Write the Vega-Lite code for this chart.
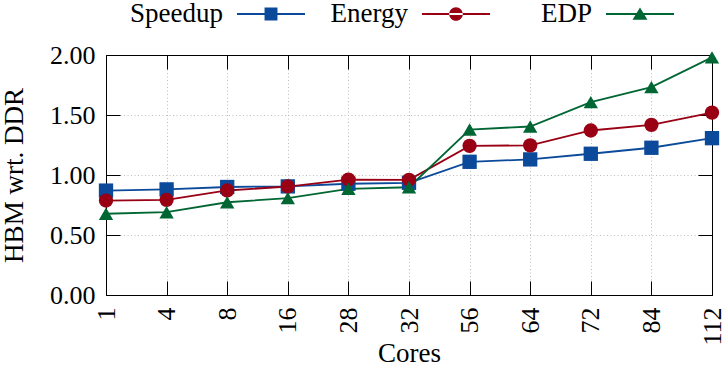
{
  "$schema": "https://vega.github.io/schema/vega-lite/v6.json",
  "width": 606,
  "height": 240,
  "autosize": {"type": "none"},
  "padding": {"left": 106, "top": 55, "right": 14, "bottom": 71},
  "background": "white",
  "config": {
    "view": {"stroke": "black", "strokeWidth": 1},
    "font": "Liberation Serif",
    "axis": {
      "labelFont": "Liberation Serif",
      "titleFont": "Liberation Serif",
      "labelFontSize": 26,
      "titleFontSize": 27,
      "titleFontWeight": "normal",
      "labelColor": "black",
      "titleColor": "black",
      "domainColor": "black",
      "tickColor": "black",
      "gridColor": "#bdbdbd",
      "gridDash": [1, 2.5],
      "gridWidth": 1
    },
    "legend": {
      "orient": "none",
      "legendY": -75,
      "direction": "horizontal",
      "labelFont": "Liberation Serif",
      "labelFontSize": 27,
      "labelColor": "black",
      "symbolSize": 4624,
      "symbolOpacity": 1,
      "symbolStrokeWidth": 0,
      "labelAlign": "right",
      "labelOffset": -82
    }
  },
  "data": {
    "values": [
      {"cores": "1", "series": "Speedup", "value": 0.87},
      {"cores": "4", "series": "Speedup", "value": 0.88},
      {"cores": "8", "series": "Speedup", "value": 0.9},
      {"cores": "16", "series": "Speedup", "value": 0.905},
      {"cores": "28", "series": "Speedup", "value": 0.927},
      {"cores": "32", "series": "Speedup", "value": 0.935},
      {"cores": "56", "series": "Speedup", "value": 1.11},
      {"cores": "64", "series": "Speedup", "value": 1.13},
      {"cores": "72", "series": "Speedup", "value": 1.177},
      {"cores": "84", "series": "Speedup", "value": 1.227},
      {"cores": "112", "series": "Speedup", "value": 1.307},
      {"cores": "1", "series": "Energy", "value": 0.787},
      {"cores": "4", "series": "Energy", "value": 0.793},
      {"cores": "8", "series": "Energy", "value": 0.871},
      {"cores": "16", "series": "Energy", "value": 0.904},
      {"cores": "28", "series": "Energy", "value": 0.962},
      {"cores": "32", "series": "Energy", "value": 0.96},
      {"cores": "56", "series": "Energy", "value": 1.243},
      {"cores": "64", "series": "Energy", "value": 1.247},
      {"cores": "72", "series": "Energy", "value": 1.371},
      {"cores": "84", "series": "Energy", "value": 1.418},
      {"cores": "112", "series": "Energy", "value": 1.52},
      {"cores": "1", "series": "EDP", "value": 0.677},
      {"cores": "4", "series": "EDP", "value": 0.69},
      {"cores": "8", "series": "EDP", "value": 0.773},
      {"cores": "16", "series": "EDP", "value": 0.807},
      {"cores": "28", "series": "EDP", "value": 0.885},
      {"cores": "32", "series": "EDP", "value": 0.898},
      {"cores": "56", "series": "EDP", "value": 1.379},
      {"cores": "64", "series": "EDP", "value": 1.404},
      {"cores": "72", "series": "EDP", "value": 1.607},
      {"cores": "84", "series": "EDP", "value": 1.732},
      {"cores": "112", "series": "EDP", "value": 1.98}
    ]
  },
  "layer": [
    {
      "mark": {"type": "line", "strokeWidth": 1.8},
      "encoding": {
        "x": {
          "field": "cores", "type": "ordinal", "sort": null,
          "scale": {"type": "point", "padding": 0},
          "axis": {"title": "Cores", "labelAngle": -90, "tickSize": -14, "labelPadding": 26, "grid": true, "titlePadding": -5}
        },
        "y": {
          "field": "value", "type": "quantitative",
          "scale": {"domain": [0, 2]},
          "axis": {"title": "HBM wrt. DDR", "values": [0, 0.5, 1, 1.5, 2], "format": ".2f", "tickSize": -14, "labelPadding": 25, "grid": true, "titlePadding": 21}
        },
        "color": {
          "field": "series", "type": "nominal",
          "scale": {"domain": ["Speedup", "Energy", "EDP"], "range": ["#0b4a9a", "#990014", "#006633"]},
          "legend": null
        }
      }
    },
    {
      "mark": {"type": "point", "filled": true, "opacity": 1, "size": 205},
      "encoding": {
        "x": {
          "field": "cores", "type": "ordinal", "sort": null,
          "scale": {"type": "point", "padding": 0},
          "axis": {"orient": "top", "labels": false, "title": null, "grid": false, "tickSize": -14}
        },
        "y": {
          "field": "value", "type": "quantitative",
          "scale": {"domain": [0, 2]},
          "axis": {"orient": "right", "labels": false, "title": null, "grid": false, "tickSize": -14, "values": [0, 0.5, 1, 1.5, 2]}
        },
        "color": {
          "field": "series", "type": "nominal",
          "scale": {"domain": ["Speedup", "Energy", "EDP"], "range": ["#0b4a9a", "#990014", "#006633"]},
          "legend": null
        },
        "shape": {
          "field": "series", "type": "nominal",
          "scale": {"domain": ["Speedup", "Energy", "EDP"], "range": ["square", "circle", "triangle-up"]},
          "legend": null
        }
      }
    },
    {
      "transform": [{"filter": "datum.series === 'Speedup'"}],
      "mark": {"type": "point", "filled": true, "size": 0, "shape": "M-1,-0.026H1V0.026H-1ZM-0.19,-0.19H0.19V0.19H-0.19Z"},
      "encoding": {
        "x": {"field": "cores", "type": "ordinal", "sort": null, "scale": {"type": "point", "padding": 0}, "axis": null},
        "y": {"field": "value", "type": "quantitative", "scale": {"domain": [0, 2]}, "axis": null},
        "color": {
          "field": "series", "type": "nominal",
          "scale": {"domain": ["Speedup"], "range": ["#0b4a9a"]},
          "legend": {"title": null, "legendX": 131}
        }
      }
    },
    {
      "transform": [{"filter": "datum.series === 'Energy'"}],
      "mark": {"type": "point", "filled": true, "size": 0, "shape": "M-1,-0.026H1V0.026H-1ZM-0.2,0a0.2,0.2 0 1,0 0.4,0a0.2,0.2 0 1,0 -0.4,0Z"},
      "encoding": {
        "x": {"field": "cores", "type": "ordinal", "sort": null, "scale": {"type": "point", "padding": 0}, "axis": null},
        "y": {"field": "value", "type": "quantitative", "scale": {"domain": [0, 2]}, "axis": null},
        "color": {
          "field": "series", "type": "nominal",
          "scale": {"domain": ["Energy"], "range": ["#990014"]},
          "legend": {"title": null, "legendX": 316}
        }
      }
    },
    {
      "transform": [{"filter": "datum.series === 'EDP'"}],
      "mark": {"type": "point", "filled": true, "size": 0, "shape": "M-1,-0.026H1V0.026H-1ZM0,-0.19L0.22,0.17L-0.22,0.17Z"},
      "encoding": {
        "x": {"field": "cores", "type": "ordinal", "sort": null, "scale": {"type": "point", "padding": 0}, "axis": null},
        "y": {"field": "value", "type": "quantitative", "scale": {"domain": [0, 2]}, "axis": null},
        "color": {
          "field": "series", "type": "nominal",
          "scale": {"domain": ["EDP"], "range": ["#006633"]},
          "legend": {"title": null, "legendX": 500}
        }
      }
    }
  ],
  "resolve": {"axis": {"x": "independent", "y": "independent"}, "scale": {"color": "independent"}}
}
